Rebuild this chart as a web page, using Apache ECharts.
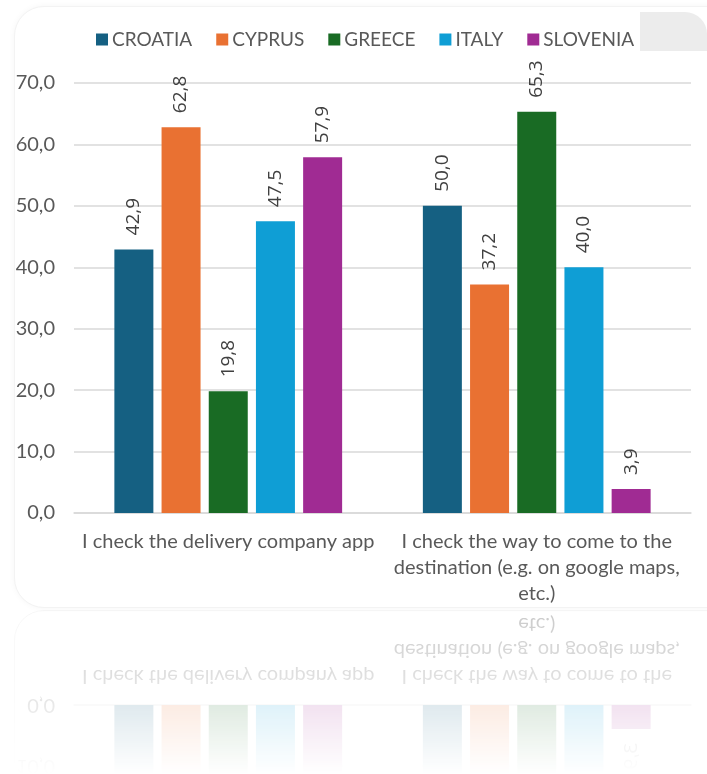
<!DOCTYPE html>
<html>
<head>
<meta charset="utf-8">
<script src="https://cdn.jsdelivr.net/npm/echarts@6/dist/echarts.min.js"></script>
<style>
  html, body { margin: 0; padding: 0; background: #ffffff; width: 707px; height: 774px; overflow: hidden; }
  #card { position: absolute; left: 14px; top: 6px; width: 740px; height: 600px; border-radius: 30px;
          border: 1px solid #f3f3f3; box-shadow: 0 0 6px rgba(0,0,0,0.04); background: #fff; }
  #tab { position: absolute; left: 640px; top: 12px; width: 67px; height: 39px; background: #ececec; border-top-right-radius: 22px; }
  #chart { position: absolute; left: 0; top: 0; width: 707px; height: 609px; }
  #reflWrap { position: absolute; left: 0; top: 609px; width: 707px; height: 165px; overflow: hidden;
              -webkit-mask-image: linear-gradient(to bottom, rgba(0,0,0,0.32), rgba(0,0,0,0.0));
              mask-image: linear-gradient(to bottom, rgba(0,0,0,0.32), rgba(0,0,0,0.0)); }
  #refl { position: absolute; left: 0; top: 0; width: 707px; height: 609px; transform: scaleY(-1); }
  #reflCard { position: absolute; left: 14px; top: 6px; width: 740px; height: 600px; border-radius: 30px;
          border: 1px solid #e6e6e6; background: #fff; }
  #reflChart { position: absolute; left: 0; top: 0; width: 707px; height: 609px; }
</style>
</head>
<body>
<div id="card"></div>
<div id="tab"></div>
<div id="chart"></div>
<div id="reflWrap"><div id="refl"><div id="reflCard"></div><div id="reflChart"></div></div></div>
<script>
// ---- data ----
const categories = [
  'I check the delivery company app',
  'I check the way to come to the\ndestination (e.g. on google maps,\netc.)'
];
const seriesNames = ['CROATIA', 'CYPRUS', 'GREECE', 'ITALY', 'SLOVENIA'];
const croatia  = [42.9, 50.0];
const cyprus   = [62.8, 37.2];
const greece   = [19.8, 65.3];
const italy    = [47.5, 40.0];
const slovenia = [57.9, 3.9];
const yTicks = [0, 10, 20, 30, 40, 50, 60, 70];
const colors = ['#156082', '#E97132', '#196B24', '#0F9ED5', '#A02B93'];

const seriesData = [croatia, cyprus, greece, italy, slovenia];
const FONT = 'Lato, "Open Sans", sans-serif';
const VFONT = '"Open Sans", Lato, sans-serif';
const fmt = v => v.toFixed(1).replace('.', ',');

function makeOption() {
  return {
    animation: false,
    color: colors,
    textStyle: { fontFamily: FONT },
    legend: {
      top: 25,
      left: 91,
      itemWidth: 12,
      itemHeight: 12,
      itemGap: 24,
      icon: 'rect',
      textStyle: { fontFamily: FONT, fontSize: 19, color: '#595959', padding: [0, 0, 0, -1] },
      data: seriesNames
    },
    grid: { left: 74, right: 16, top: 83, bottom: 96, containLabel: false },
    xAxis: {
      type: 'category',
      data: categories,
      axisLine: { show: true, lineStyle: { color: '#d9d9d9', width: 1.5 } },
      axisTick: { show: false },
      axisLabel: { fontFamily: FONT, fontSize: 20, color: '#595959', margin: 16, lineHeight: 26, interval: 0 }
    },
    yAxis: {
      type: 'value',
      min: 0, max: 70, interval: 10,
      axisLine: { show: false },
      axisTick: { show: false },
      splitLine: { lineStyle: { color: '#d9d9d9', width: 1.5 } },
      axisLabel: { fontFamily: FONT, fontSize: 20, color: '#595959', margin: 19, formatter: v => fmt(v) }
    },
    series: seriesNames.map((name, i) => ({
      name: name,
      type: 'bar',
      data: seriesData[i],
      barWidth: 39,
      barGap: '21%',
      itemStyle: { color: colors[i] },
      label: {
        show: true,
        position: 'top',
        rotate: 90,
        align: 'left',
        verticalAlign: 'middle',
        distance: 14,
        fontFamily: VFONT,
        fontSize: 19,
        color: '#404040',
        formatter: p => fmt(p.value)
      }
    }))
  };
}

const chart = echarts.init(document.getElementById('chart'));
chart.setOption(makeOption());
const refl = echarts.init(document.getElementById('reflChart'));
refl.setOption(makeOption());
</script>
</body>
</html>
